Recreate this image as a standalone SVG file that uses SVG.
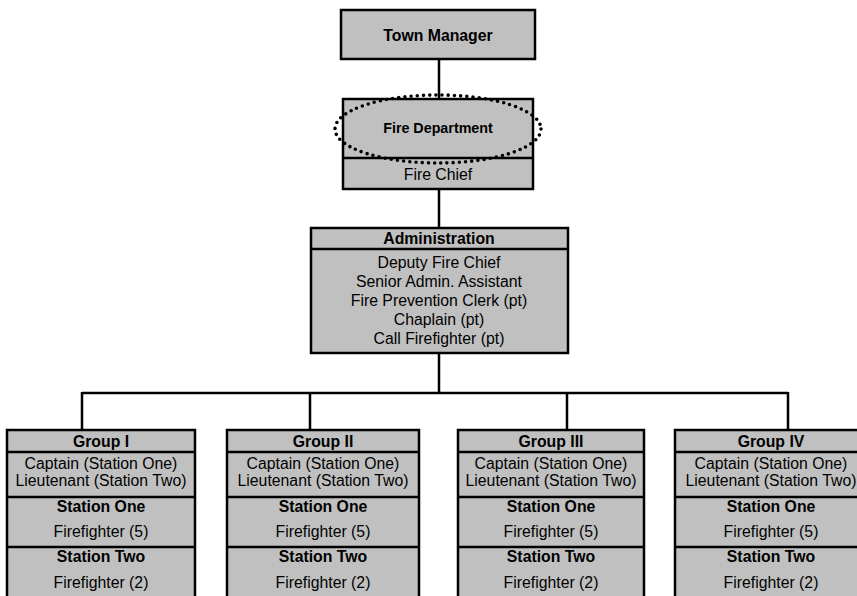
<svg xmlns="http://www.w3.org/2000/svg" width="857" height="596" viewBox="0 0 857 596">
<style>
.box{fill:#c0c0c0;stroke:#000;stroke-width:2.5}
.div{stroke:#000;stroke-width:2.5}
.con{stroke:#000;stroke-width:2.5;fill:none}
text{font-family:"Liberation Sans",Arial,sans-serif;font-size:15.8px;text-anchor:middle;fill:#000}
.b{font-weight:bold}
.dots{fill:none;stroke:#000;stroke-width:3.6;stroke-linecap:round;stroke-dasharray:0 6.2}
</style>
<rect width="857" height="596" fill="#fff"/>
<g id="connectors">
<line class="con" x1="439" y1="59" x2="439" y2="99"/>
<line class="con" x1="439" y1="189" x2="439" y2="228"/>
<line class="con" x1="439" y1="353" x2="439" y2="393"/>
<line class="con" x1="82" y1="393" x2="788" y2="393"/>
<line class="con" x1="82" y1="392" x2="82" y2="430"/>
<line class="con" x1="310" y1="392" x2="310" y2="430"/>
<line class="con" x1="567" y1="392" x2="567" y2="430"/>
<line class="con" x1="788" y1="392" x2="788" y2="430"/>
</g>
<g id="town-manager">
<rect class="box" x="341" y="10" width="194" height="49"/>
<text class="b" x="438" y="41">Town Manager</text>
</g>
<g id="fire-department">
<rect class="box" x="343" y="99" width="190" height="90"/>
<line class="div" x1="343" y1="158" x2="533" y2="158"/>
<ellipse class="dots" cx="438" cy="129" rx="103" ry="34"/>
<text class="b" x="438" y="133" style="font-size:14.3px">Fire Department</text>
<text x="438" y="180">Fire Chief</text>
</g>
<g id="administration">
<rect class="box" x="311" y="228" width="257" height="125"/>
<line class="div" x1="311" y1="249" x2="568" y2="249"/>
<text class="b" x="439" y="244">Administration</text>
<text x="439" y="268">Deputy Fire Chief</text>
<text x="439" y="287">Senior Admin. Assistant</text>
<text x="439" y="306">Fire Prevention Clerk (pt)</text>
<text x="439" y="325">Chaplain (pt)</text>
<text x="439" y="344">Call Firefighter (pt)</text>
</g>
<g id="group-1">
<rect class="box" x="7" y="430" width="188" height="175"/>
<line class="div" x1="7" y1="452" x2="195" y2="452"/>
<line class="div" x1="7" y1="497" x2="195" y2="497"/>
<line class="div" x1="7" y1="547" x2="195" y2="547"/>
<text class="b" x="101" y="447">Group I</text>
<text x="101" y="469">Captain (Station One)</text>
<text x="101" y="486">Lieutenant (Station Two)</text>
<text class="b" x="101" y="512">Station One</text>
<text x="101" y="537">Firefighter (5)</text>
<text class="b" x="101" y="562">Station Two</text>
<text x="101" y="588">Firefighter (2)</text>
</g>
<g id="group-2">
<rect class="box" x="227" y="430" width="192" height="175"/>
<line class="div" x1="227" y1="452" x2="419" y2="452"/>
<line class="div" x1="227" y1="497" x2="419" y2="497"/>
<line class="div" x1="227" y1="547" x2="419" y2="547"/>
<text class="b" x="323" y="447">Group II</text>
<text x="323" y="469">Captain (Station One)</text>
<text x="323" y="486">Lieutenant (Station Two)</text>
<text class="b" x="323" y="512">Station One</text>
<text x="323" y="537">Firefighter (5)</text>
<text class="b" x="323" y="562">Station Two</text>
<text x="323" y="588">Firefighter (2)</text>
</g>
<g id="group-3">
<rect class="box" x="458" y="430" width="186" height="175"/>
<line class="div" x1="458" y1="452" x2="644" y2="452"/>
<line class="div" x1="458" y1="497" x2="644" y2="497"/>
<line class="div" x1="458" y1="547" x2="644" y2="547"/>
<text class="b" x="551" y="447">Group III</text>
<text x="551" y="469">Captain (Station One)</text>
<text x="551" y="486">Lieutenant (Station Two)</text>
<text class="b" x="551" y="512">Station One</text>
<text x="551" y="537">Firefighter (5)</text>
<text class="b" x="551" y="562">Station Two</text>
<text x="551" y="588">Firefighter (2)</text>
</g>
<g id="group-4">
<rect class="box" x="675" y="430" width="192" height="175"/>
<line class="div" x1="675" y1="452" x2="867" y2="452"/>
<line class="div" x1="675" y1="497" x2="867" y2="497"/>
<line class="div" x1="675" y1="547" x2="867" y2="547"/>
<text class="b" x="771" y="447">Group IV</text>
<text x="771" y="469">Captain (Station One)</text>
<text x="771" y="486">Lieutenant (Station Two)</text>
<text class="b" x="771" y="512">Station One</text>
<text x="771" y="537">Firefighter (5)</text>
<text class="b" x="771" y="562">Station Two</text>
<text x="771" y="588">Firefighter (2)</text>
</g>
</svg>
